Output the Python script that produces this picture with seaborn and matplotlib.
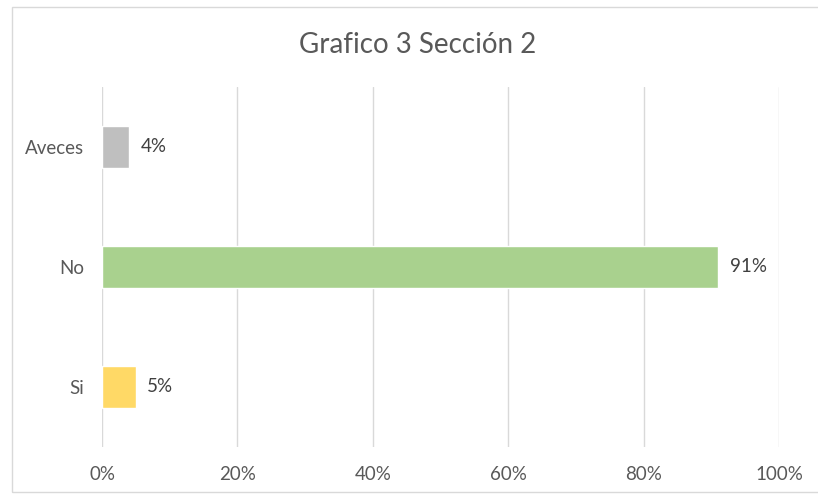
import matplotlib
matplotlib.use("Agg")
import matplotlib.pyplot as plt
from matplotlib.patches import Rectangle
from matplotlib.ticker import FuncFormatter, MultipleLocator
import seaborn as sns
import pandas as pd

# Survey responses (share of answers)
categories = ["Aveces", "No", "Si"]
values = [0.04, 0.91, 0.05]
bar_colors = ["#BFBFBF", "#A9D18E", "#FFD966"]
title = "Grafico 3 Sección 2"

df = pd.DataFrame({"respuesta": categories, "valor": values})

sns.set_theme(style="white")
plt.rcParams["font.family"] = ["Lato", "DejaVu Sans"]

W, H = 818, 497
fig = plt.figure(figsize=(W / 100, H / 100), dpi=100)
ax = fig.add_axes([102 / W, 1 - 447 / H, (779 - 102) / W, (447 - 87) / H])

sns.barplot(data=df, y="respuesta", x="valor", hue="respuesta",
            palette=bar_colors, order=categories, hue_order=categories,
            orient="h", width=0.345, legend=False, ax=ax, saturation=1)

ax.set_xlim(0, 1.0)
ax.set_ylim(len(categories) - 0.5, -0.5)
ax.xaxis.set_major_locator(MultipleLocator(0.2))
ax.xaxis.set_major_formatter(FuncFormatter(lambda v, _: f"{v * 100:.0f}%"))
ax.grid(axis="x", color="#D9D9D9", linewidth=1)
ax.set_axisbelow(True)
for s in ax.spines.values():
    s.set_visible(False)
ax.set_xlabel("")
ax.set_ylabel("")
ax.tick_params(axis="both", length=0, labelsize=13.5, labelcolor="#595959")
ax.tick_params(axis="x", pad=14)
ax.tick_params(axis="y", pad=13)

# value labels at the end of each bar
for i, v in enumerate(values):
    ax.text(v + 0.017, i, f"{v * 100:.0f}%", va="center", ha="left",
            fontsize=13.5, color="#404040")

fig.text(418 / W, 1 - 45 / H, title, ha="center", va="center",
         fontsize=20, color="#595959")

# chart frame
fig.patches.append(Rectangle((12 / W, 5 / H), 1.0, 1 - 12 / H,
                             transform=fig.transFigure, fill=False,
                             edgecolor="#D9D9D9", linewidth=1))

fig.savefig("out.png", dpi=100, facecolor="white")
